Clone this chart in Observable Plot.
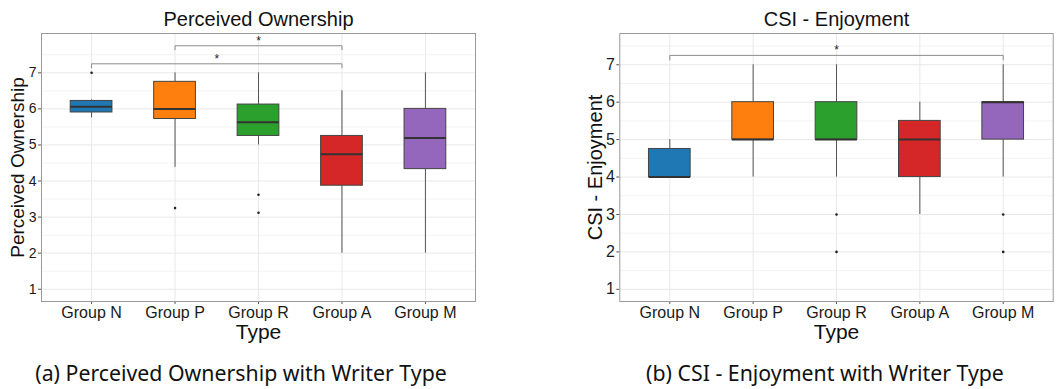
<!DOCTYPE html>
<html>
<head>
<meta charset="utf-8">
<script src="https://cdn.jsdelivr.net/npm/d3@7"></script>
<script src="https://cdn.jsdelivr.net/npm/@observablehq/plot@0.6"></script>
<style>
  html, body { margin: 0; padding: 0; background: #fff; }
  #root { position: relative; width: 1056px; height: 389px; overflow: hidden; background: #fff; }
  .panel { position: absolute; top: 0; }
  .caption { position: absolute; top: 362px; font-family: "Noto Sans", "Lato", sans-serif; font-size: 21.3px; line-height: 1; color: #111; white-space: nowrap; transform: translateX(-50%); }
</style>
</head>
<body>
<div id="root"></div>
<script>
// ---------- data ----------
const groups = ["Group N", "Group P", "Group R", "Group A", "Group M"];
const colors = ["#1f77b4", "#ff7f0e", "#2ca02c", "#d62728", "#9467bd"];
const yTicks = [1, 2, 3, 4, 5, 6, 7];

// Perceived Ownership
const ownLow    = [5.75, 4.38, 5.0, 2.0, 2.0];
const ownQ1     = [5.9, 5.72, 5.25, 3.87, 4.33];
const ownMedian = [6.06, 6.0, 5.63, 4.74, 5.19];
const ownQ3     = [6.22, 6.75, 6.12, 5.25, 6.0];
const ownHigh   = [6.25, 7.0, 7.0, 6.5, 7.0];
const ownOutGroup = ["Group N", "Group P", "Group R", "Group R"];
const ownOutValue = [7.0, 3.25, 3.62, 3.12];
const ownSigFrom = ["Group P", "Group N"];
const ownSigTo   = ["Group A", "Group A"];
const ownSigY    = [7.75, 7.25];

// CSI - Enjoyment
const enjLow    = [4.0, 4.0, 4.0, 3.0, 4.0];
const enjQ1     = [4.0, 5.0, 5.0, 4.0, 5.0];
const enjMedian = [4.0, 5.0, 5.0, 5.0, 6.0];
const enjQ3     = [4.75, 6.0, 6.0, 5.5, 6.0];
const enjHigh   = [5.0, 7.0, 7.0, 6.0, 7.0];
const enjOutGroup = ["Group R", "Group R", "Group M", "Group M"];
const enjOutValue = [3.0, 2.0, 3.0, 2.0];
const enjSigFrom = ["Group N"];
const enjSigTo   = ["Group M"];
const enjSigY    = [7.25];

// ---------- helpers ----------
const idx = g => groups.indexOf(g) + 1;
const half = 0.25;

function boxTable(lo, q1, med, q3, hi) {
  return groups.map((g, i) => ({g, i: i + 1, lo: lo[i], q1: q1[i], med: med[i], q3: q3[i], hi: hi[i]}));
}
function bracketTable(from, to, ys, drop) {
  const pts = [];
  from.forEach((f, k) => {
    const a = idx(f), b = idx(to[k]), y = ys[k];
    pts.push({k, x: a, y: y - drop}, {k, x: a, y}, {k, x: b, y}, {k, x: b, y: y - drop});
  });
  return pts;
}
function starTable(from, to, ys) {
  return from.map((f, k) => ({x: (idx(f) + idx(to[k])) / 2, y: ys[k]}));
}

function panel({boxes, outG, outV, sigFrom, sigTo, sigY, drop, yDomain, title, yLabel, yLabelSize, width, mLeft, mRight, yTickSize}) {
  const outliers = outG.map((g, i) => ({x: idx(g), y: outV[i]}));
  const minor = [];
  for (let v = 0.5; v <= yDomain[1]; v += 1) if (v >= yDomain[0]) minor.push(v);
  return Plot.plot({
    width, height: 345,
    marginLeft: mLeft, marginRight: mRight, marginTop: 33, marginBottom: 44,
    style: {fontFamily: "'Liberation Sans', Arial, sans-serif", color: "#1a1a1a", background: "#fff"},
    x: {domain: [0.4, 5.6]},
    y: {domain: yDomain},
    marks: [
      Plot.ruleY(minor, {stroke: "#f3f3f3", strokeWidth: 1}),
      Plot.ruleY(yTicks, {stroke: "#e8e8e8", strokeWidth: 1}),
      Plot.ruleX(groups.map((g, i) => i + 1), {stroke: "#e8e8e8", strokeWidth: 1}),
      Plot.axisY({ticks: yTicks, tickSize: 3, tickPadding: 2, fontSize: yTickSize, stroke: "#555", label: null}),
      Plot.axisX({ticks: groups.map((g, i) => i + 1), tickFormat: i => groups[i - 1], tickSize: 3, tickPadding: 2, fontSize: 16, stroke: "#555", label: null}),
      Plot.ruleX(boxes, {x: "i", y1: "lo", y2: "q1", stroke: "#555", strokeWidth: 1}),
      Plot.ruleX(boxes, {x: "i", y1: "q3", y2: "hi", stroke: "#555", strokeWidth: 1}),
      Plot.rect(boxes, {x1: d => d.i - half, x2: d => d.i + half, y1: "q1", y2: "q3", fill: (d, k) => colors[k], stroke: "#444", strokeWidth: 1}),
      Plot.ruleY(boxes, {y: "med", x1: d => d.i - half, x2: d => d.i + half, stroke: "#333", strokeWidth: 2}),
      Plot.dot(outliers, {x: "x", y: "y", r: 1.3, fill: "#222", stroke: null}),
      Plot.line(bracketTable(sigFrom, sigTo, sigY, drop), {x: "x", y: "y", z: "k", stroke: "#8c8c8c", strokeWidth: 1}),
      Plot.text(starTable(sigFrom, sigTo, sigY), {x: "x", y: "y", text: () => "*", fontSize: 12, lineAnchor: "bottom", dy: -1, fill: "#222"}),
      Plot.frame({stroke: "#999", strokeWidth: 1}),
      Plot.text([title], {frameAnchor: "top", text: d => d, fontSize: 20, textAnchor: "middle", lineAnchor: "middle", dy: -13.5, fill: "#111"}),
      Plot.text(["Type"], {frameAnchor: "bottom", text: d => d, fontSize: 21, textAnchor: "middle", lineAnchor: "middle", dy: 30.5, fill: "#111"}),
      Plot.text([yLabel], {frameAnchor: "left", text: d => d, fontSize: yLabelSize, rotate: -90, textAnchor: "middle", lineAnchor: "middle", dx: -24, fill: "#111"})
    ]
  });
}

const root = document.getElementById("root");

const left = panel({
  boxes: boxTable(ownLow, ownQ1, ownMedian, ownQ3, ownHigh),
  outG: ownOutGroup, outV: ownOutValue,
  sigFrom: ownSigFrom, sigTo: ownSigTo, sigY: ownSigY, drop: 0.11,
  yDomain: [0.66, 8.09], title: "Perceived Ownership", yLabel: "Perceived Ownership", yLabelSize: 19,
  width: 528, mLeft: 41, mRight: 53, yTickSize: 14
});
left.classList.add("panel"); left.style.left = "0px";
root.appendChild(left);

const right = panel({
  boxes: boxTable(enjLow, enjQ1, enjMedian, enjQ3, enjHigh),
  outG: enjOutGroup, outV: enjOutValue,
  sigFrom: enjSigFrom, sigTo: enjSigTo, sigY: enjSigY, drop: 0.12,
  yDomain: [0.675, 7.835], title: "CSI - Enjoyment", yLabel: "CSI - Enjoyment", yLabelSize: 20,
  width: 528, mLeft: 91.3, mRight: 3.3, yTickSize: 16
});
right.classList.add("panel"); right.style.left = "528px";
root.appendChild(right);

const capA = document.createElement("div");
capA.className = "caption"; capA.style.left = "241px";
capA.textContent = "(a) Perceived Ownership with Writer Type";
root.appendChild(capA);

const capB = document.createElement("div");
capB.className = "caption"; capB.style.left = "825px";
capB.textContent = "(b) CSI - Enjoyment with Writer Type";
root.appendChild(capB);
</script>
</body>
</html>
